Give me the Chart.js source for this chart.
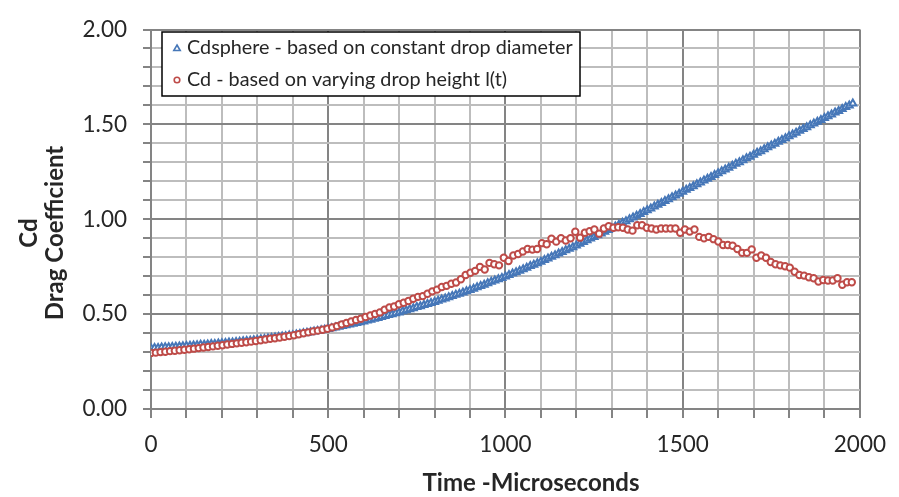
<!DOCTYPE html>
<html>
<head>
  <meta charset="utf-8">
  <title>Drag coefficient vs time</title>
  <script src="https://cdn.jsdelivr.net/npm/chart.js@4.4.0/dist/chart.umd.min.js"></script>
  <style>
    body { margin:0; background:#fff; }
    #chartCtn { width:899px; height:497px; }
  </style>
</head>
<body>
  <div id="chartCtn"><canvas id="chartEl" width="899" height="497"></canvas></div>

  <script>
    // sampling steps (microseconds) of the two series
    let sphereStep = 10;
    let heightStep = 13.45;

    // Cd based on constant drop diameter
    let cdSphere = [
      0.320,0.321,0.322,0.324,0.325,0.326,0.327,0.328,0.330,0.331,
      0.332,0.333,0.335,0.336,0.338,0.339,0.340,0.342,0.343,0.345,
      0.346,0.348,0.350,0.351,0.353,0.355,0.357,0.359,0.360,0.362,
      0.364,0.367,0.369,0.372,0.374,0.377,0.379,0.382,0.384,0.387,
      0.389,0.392,0.395,0.399,0.402,0.405,0.408,0.411,0.415,0.418,
      0.421,0.425,0.429,0.433,0.437,0.441,0.445,0.449,0.453,0.457,
      0.461,0.466,0.471,0.475,0.480,0.485,0.490,0.495,0.499,0.504,
      0.509,0.515,0.520,0.526,0.531,0.537,0.542,0.548,0.553,0.559,
      0.564,0.570,0.577,0.583,0.589,0.596,0.602,0.608,0.614,0.621,
      0.627,0.634,0.641,0.648,0.655,0.663,0.670,0.677,0.684,0.691,
      0.698,0.706,0.714,0.721,0.729,0.737,0.745,0.753,0.760,0.768,
      0.776,0.785,0.793,0.802,0.810,0.819,0.828,0.836,0.845,0.853,
      0.862,0.871,0.880,0.889,0.898,0.907,0.916,0.925,0.934,0.943,
      0.952,0.962,0.971,0.981,0.990,1.000,1.009,1.019,1.028,1.038,
      1.047,1.057,1.067,1.076,1.086,1.096,1.106,1.116,1.125,1.135,
      1.145,1.155,1.165,1.174,1.184,1.194,1.204,1.214,1.223,1.233,
      1.243,1.253,1.262,1.272,1.282,1.292,1.301,1.311,1.321,1.330,
      1.340,1.350,1.359,1.369,1.379,1.389,1.398,1.408,1.418,1.427,
      1.437,1.447,1.456,1.466,1.475,1.485,1.495,1.504,1.514,1.523,
      1.533,1.543,1.552,1.562,1.571,1.581,1.591,1.600,1.610
    ];

    // Cd based on varying drop height l(t)
    let cdHeight = [
      0.295,0.297,0.300,0.302,0.305,0.307,0.310,0.312,0.315,0.318,
      0.321,0.324,0.327,0.330,0.333,0.336,0.340,0.343,0.346,0.349,
      0.352,0.355,0.358,0.362,0.366,0.370,0.373,0.377,0.381,0.385,
      0.389,0.394,0.399,0.404,0.409,0.413,0.418,0.423,0.430,0.437,
      0.446,0.453,0.461,0.469,0.476,0.485,0.493,0.501,
      0.509,0.523,0.535,0.540,0.552,0.560,0.569,0.581,0.591,0.595,
      0.607,0.620,0.629,0.643,0.649,0.660,0.667,0.684,0.706,0.718,
      0.728,0.749,0.735,0.770,0.763,0.757,0.797,0.780,0.809,0.817,
      0.830,0.843,0.840,0.843,0.874,0.868,0.897,0.882,0.900,0.888,
      0.900,0.934,0.903,0.929,0.937,0.946,0.924,0.951,0.963,0.955,
      0.958,0.955,0.946,0.940,0.968,0.968,0.955,0.951,0.946,0.951,
      0.951,0.951,0.951,0.929,0.946,0.935,0.946,0.907,0.900,0.907,
      0.895,0.883,0.864,0.864,0.860,0.843,0.823,0.823,0.841,0.797,
      0.809,0.797,0.775,0.763,0.757,0.752,0.745,0.723,0.706,0.703,
      0.694,0.689,0.672,0.680,0.677,0.677,0.689,0.655,0.668,0.668
    ];

    let seriesNames = [
      "Cdsphere - based on constant drop diameter",
      "Cd - based on varying drop height l(t)"
    ];
    let xTickLabels = ["0", "500", "1000", "1500", "2000"];
    let yTickLabels = ["0.00", "0.50", "1.00", "1.50", "2.00"];
    let xTitle = "Time -Microseconds";
    let yTitleLines = ["Cd", "Drag Coefficient"];

    const blue = "#4677b8";
    const red = "#be4b48";
    const minorGrid = "#bdbdbd";
    const majorGrid = "#848484";
    const textColor = "#262626";
    const fontFamily = "Lato, 'Open Sans', sans-serif";

    let spherePoints = cdSphere.map((v, i) => ({x: i * sphereStep, y: v}));
    let heightPoints = cdHeight.map((v, i) => ({x: i * heightStep, y: v}));

    // legend box and axis titles drawn on top, in the places the original has them
    let decorPlugin = {
      id: "decor",
      afterDraw(chart) {
        let ctx = chart.ctx;
        ctx.save();

        // legend
        ctx.fillStyle = "#fff";
        ctx.fillRect(162, 32, 418, 64);
        ctx.strokeStyle = "#000";
        ctx.lineWidth = 1.5;
        ctx.strokeRect(162, 32, 418, 64);

        ctx.lineWidth = 1.6;
        ctx.strokeStyle = blue;
        ctx.beginPath();
        ctx.moveTo(177, 45);
        ctx.lineTo(180.2, 50.5);
        ctx.lineTo(173.8, 50.5);
        ctx.closePath();
        ctx.stroke();

        ctx.strokeStyle = red;
        ctx.beginPath();
        ctx.arc(177, 80, 2.8, 0, Math.PI * 2);
        ctx.stroke();

        ctx.fillStyle = textColor;
        ctx.font = "19.8px " + fontFamily;
        ctx.textBaseline = "middle";
        ctx.textAlign = "left";
        ctx.fillText(seriesNames[0], 187, 48);
        ctx.fillText(seriesNames[1], 187, 80);

        // axis titles
        ctx.font = "bold 24px " + fontFamily;
        ctx.textAlign = "center";
        ctx.fillText(xTitle, 531, 483);

        ctx.translate(29, 233);
        ctx.rotate(-Math.PI / 2);
        ctx.fillText(yTitleLines[0], 0, 0);
        ctx.fillText(yTitleLines[1], 0, 26);
        ctx.restore();
      }
    };

    new Chart(chartEl, {
      type: "scatter",
      plugins: [decorPlugin],
      data: {
        datasets: [
          {
            label: seriesNames[0],
            data: spherePoints,
            pointStyle: "triangle",
            pointRadius: 4,
            pointBorderWidth: 2,
            pointBorderColor: blue,
            pointBackgroundColor: "#fff",
            showLine: false,
            order: 1
          },
          {
            label: seriesNames[1],
            data: heightPoints,
            pointStyle: "circle",
            pointRadius: 3.2,
            pointBorderWidth: 2,
            pointBorderColor: red,
            pointBackgroundColor: "#fff",
            showLine: false,
            order: 0
          }
        ]
      },
      options: {
        responsive: false,
        animation: false,
        layout: { padding: { top: 20, right: 31, left: 0, bottom: 0 } },
        plugins: {
          legend: { display: false },
          tooltip: { enabled: false }
        },
        scales: {
          x: {
            type: "linear",
            min: 0,
            max: 2000,
            afterFit(scale) { scale.height = 88; },
            border: { color: majorGrid, width: 2 },
            grid: {
              color: c => (Math.round(c.tick.value) % 500 === 0 ? majorGrid : minorGrid),
              lineWidth: 2,
              tickColor: majorGrid,
              tickLength: 9
            },
            ticks: {
              stepSize: 100,
              autoSkip: false,
              maxRotation: 0,
              padding: 13,
              color: textColor,
              font: { family: fontFamily, size: 22.5 },
              callback: v => (Math.round(v) % 500 === 0 ? xTickLabels[Math.round(v) / 500] : "")
            }
          },
          y: {
            min: 0,
            max: 2,
            afterFit(scale) { scale.width = 151; },
            border: { color: majorGrid, width: 2 },
            grid: {
              color: c => (Math.round(c.tick.value * 10) % 5 === 0 ? majorGrid : minorGrid),
              lineWidth: 2,
              tickColor: majorGrid,
              tickLength: 8
            },
            ticks: {
              stepSize: 0.1,
              autoSkip: false,
              padding: 16,
              color: textColor,
              font: { family: fontFamily, size: 22.5 },
              callback: v => (Math.round(v * 10) % 5 === 0 ? yTickLabels[Math.round(v * 10) / 5] : "")
            }
          }
        }
      }
    });
  </script>
</body>
</html>
